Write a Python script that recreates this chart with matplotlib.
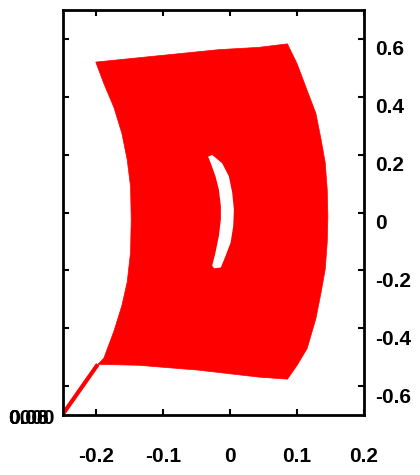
import numpy as np
import matplotlib
matplotlib.use("Agg")
import matplotlib.pyplot as plt
import matplotlib.transforms as mtransforms

# boundary of the filled red region (data units)
top_x = [-0.201, -0.107, -0.017, 0.043, 0.0855]
top_y = [0.520, 0.542, 0.563, 0.571, 0.583]

right_x = [0.100, 0.115, 0.128, 0.136, 0.142, 0.145, 0.146, 0.145, 0.142, 0.136, 0.128, 0.115, 0.100]
right_y = [0.514, 0.422, 0.343, 0.250, 0.172, 0.079, -0.014, -0.103, -0.196, -0.274, -0.367, -0.470, -0.528]

bottom_x = [0.0855, 0.043, -0.047, -0.137, -0.198]
bottom_y = [-0.576, -0.569, -0.545, -0.528, -0.525]

left_x = [-0.189, -0.174, -0.162, -0.154, -0.149, -0.148, -0.149, -0.154, -0.162, -0.174, -0.189]
left_y = [-0.504, -0.411, -0.322, -0.240, -0.137, -0.024, 0.089, 0.182, 0.274, 0.364, 0.446]

# crescent shaped hole
hole_out_x = [-0.027, -0.012, -0.002, 0.003, 0.0055, 0.0045, 0.0006, -0.007, -0.014, -0.024]
hole_out_y = [0.199, 0.170, 0.125, 0.068, 0.010, -0.047, -0.104, -0.150, -0.190, -0.193]
hole_in_x = [-0.027, -0.022, -0.017, -0.014, -0.014, -0.017, -0.022, -0.029, -0.033]
hole_in_y = [-0.184, -0.138, -0.081, -0.024, 0.022, 0.079, 0.125, 0.170, 0.193]

# thin tail at lower left
tail_x = [-0.198, -0.249]
tail_y = [-0.525, -0.693]

xticks = [-0.2, -0.1, 0, 0.1, 0.2]
xlabels = ["-0.2", "-0.1", "0", "0.1", "0.2"]
yticks = [-0.6, -0.4, -0.2, 0, 0.2, 0.4, 0.6]
ylabels = ["-0.6", "-0.4", "-0.2", "0", "0.2", "0.4", "0.6"]
stray_labels = ["0000", "0.00", "0.08"]

plt.rcParams['font.family'] = ['Liberation Sans', 'DejaVu Sans']

fig = plt.figure(figsize=(4.2, 4.75), dpi=100)
ax = fig.add_axes([0.15, 0.1263, 0.7167, 0.8526])

px = top_x + right_x + bottom_x + left_x
py = top_y + right_y + bottom_y + left_y
ax.fill(px, py, color="#ff0000", lw=0.5, ec="#ff0000")
ax.plot(tail_x, tail_y, color="#ff0000", lw=3, solid_capstyle="butt")
ax.fill(hole_out_x + hole_in_x, hole_out_y + hole_in_y, color="white", lw=0)

ax.set_xlim(-0.25, 0.2)
ax.set_ylim(-0.7, 0.7)
ax.set_xticks(xticks)
ax.set_xticklabels(xlabels, fontsize=15, fontweight="bold")
ax.set_yticks(yticks)
ax.set_yticklabels(ylabels, fontsize=15, fontweight="bold")

ax.tick_params(axis="both", direction="in", length=4, width=1.5,
               top=True, right=True, left=True, bottom=True)
ax.tick_params(axis="y", labelleft=False, labelright=True, pad=8)
ax.tick_params(axis="x", pad=23)
for s in ax.spines.values():
    s.set_linewidth(2)

# y labels sit a little below their ticks in the original
off = mtransforms.ScaledTranslation(0, -0.09, fig.dpi_scale_trans)
for lab in ax.get_yticklabels():
    lab.set_transform(lab.get_transform() + off)

for s in stray_labels:
    fig.text(0.019, 0.118, s, fontsize=15, fontweight="bold", ha="left", va="center")

fig.savefig("out.png", dpi=100)
